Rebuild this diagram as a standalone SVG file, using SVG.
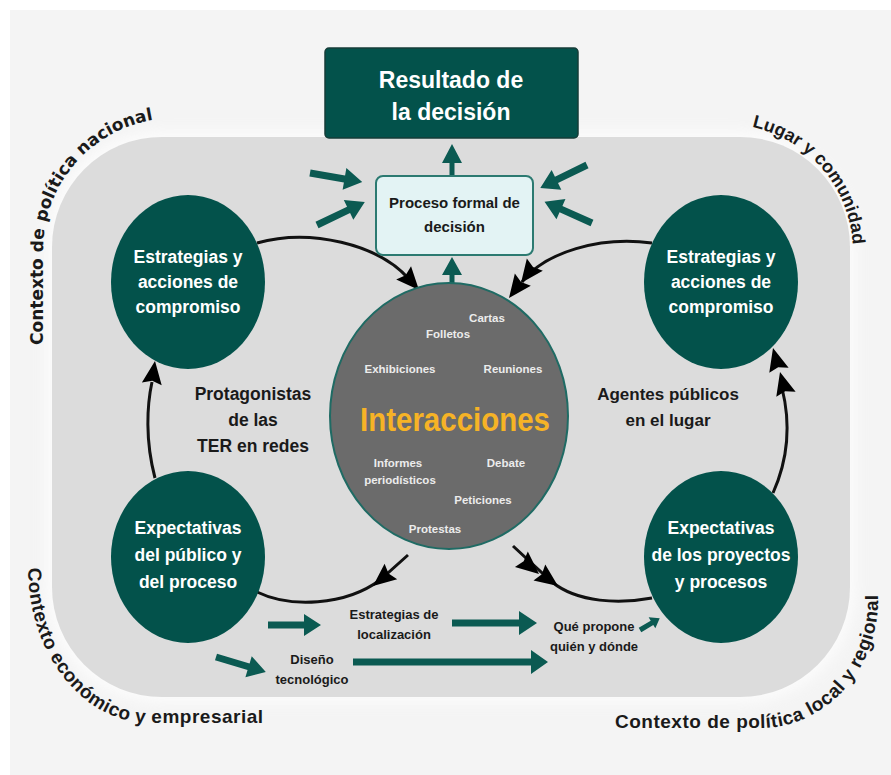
<svg xmlns="http://www.w3.org/2000/svg" width="891" height="775" viewBox="0 0 891 775">
<defs>
<style>
.bg{fill:#f4f4f4}
.panel{fill:#dcdcdc}
.node{fill:#03524b}
.wt{fill:#ffffff;font-family:"Liberation Sans",Arial,sans-serif;font-weight:bold;text-anchor:middle}
.bk{fill:#1a1a1a;font-family:"Liberation Sans",Arial,sans-serif;font-weight:bold;text-anchor:middle}
.sm{fill:#ececec;font-family:"Liberation Sans",Arial,sans-serif;font-weight:bold;font-size:11.5px;text-anchor:middle}
.curve{fill:none;stroke:#111111;stroke-width:3}
.tarrow{fill:#0b5a52}
.ctx{fill:#1a1a1a;font-family:"Liberation Sans",Arial,sans-serif;font-weight:bold}
.ctx19{font-size:19px;letter-spacing:0.5px}
.ctxdv{font-family:"DejaVu Sans",sans-serif;font-size:17px}
</style>
<path id="ah" d="M0,0 L-23,-10 L-20,0 L-23,10 Z" fill="#000000"/>
<filter id="glow" x="-10%" y="-10%" width="120%" height="120%"><feGaussianBlur stdDeviation="7"/></filter>
<path id="p-tl" d="M43,345 L43,250 A132,132 0 0 1 175,118"/>
<path id="p-tr" d="M752,127 A128,128 0 0 1 853,252 L853,280"/>
<path id="p-bl" d="M28,568 A122,155 0 0 0 150,723 L290,723"/>
<path id="p-br" d="M615,728 L760,728 A118,128 0 0 0 878,600 L878,560"/>
</defs>

<rect x="0" y="0" width="891" height="775" fill="#ffffff"/>
<rect class="bg" x="10" y="10" width="881" height="765"/>
<rect x="46" y="131" width="810" height="572" rx="116" fill="#ffffff" opacity="0.7" filter="url(#glow)"/>
<rect class="panel" x="52" y="137" width="798" height="560" rx="110"/>

<g id="context-labels">
<text class="ctx ctxdv"><textPath href="#p-tl">Contexto de</textPath></text>
<text class="ctx ctxdv"><textPath href="#p-tl" startOffset="122.8">política nacional</textPath></text>
<text class="ctx" style="font-size:18px"><textPath href="#p-tr">Lugar y comunidad</textPath></text>
<text class="ctx ctx19"><textPath href="#p-bl">Contexto</textPath></text>
<text class="ctx ctx19"><textPath href="#p-bl" startOffset="92.1">económico</textPath></text>
<text class="ctx ctx19"><textPath href="#p-bl" startOffset="202.7">y empresarial</textPath></text>
<text class="ctx ctx19"><textPath href="#p-br">Contexto de política</textPath></text>
<text class="ctx ctx19"><textPath href="#p-br" startOffset="197.4">local y regional</textPath></text>
</g>

<g id="connectors">
<path class="curve" d="M257,243 C310,228 378,244 409,279"/>
<use href="#ah" transform="translate(419,290) rotate(48)"/>
<path class="curve" d="M652,243 C600,236 545,252 522,282"/>
<use href="#ah" transform="translate(509,298) rotate(127)"/>
<use href="#ah" transform="translate(521,283) rotate(127)"/>
<path class="curve" d="M155,478 C145,440 147,405 152,382"/>
<use href="#ah" transform="translate(155,361) rotate(-82)"/>
<path class="curve" d="M773,493 C790,455 790,420 782,388"/>
<use href="#ah" transform="translate(773,348) rotate(-105)"/>
<use href="#ah" transform="translate(780,372) rotate(-105)"/>
<path class="curve" d="M408,555 L380,580 C345,606 290,608 257,592"/>
<use href="#ah" transform="translate(373,586) rotate(141)"/>
<path class="curve" d="M513,546 L552,582 C578,603 620,604 652,598"/>
<use href="#ah" transform="translate(539,574) rotate(40)"/>
<use href="#ah" transform="translate(558,586) rotate(36)"/>

<polygon class="tarrow" transform="translate(452,176) rotate(-90)" points="0,-2.5 13,-2.5 13,-10 32,0 13,10 13,2.5 0,2.5"/>
<polygon class="tarrow" transform="translate(452,285) rotate(-90)" points="0,-2.5 10,-2.5 10,-10 28,0 10,10 10,2.5 0,2.5"/>
<polygon class="tarrow" transform="translate(310,173) rotate(9.8)" points="0,-3.5 35,-3.5 35,-11 53,0 35,11 35,3.5 0,3.5"/>
<polygon class="tarrow" transform="translate(317,225) rotate(-25.6)" points="0,-3.5 35,-3.5 35,-11 53,0 35,11 35,3.5 0,3.5"/>
<polygon class="tarrow" transform="translate(587,165) rotate(153.9)" points="0,-3.5 34,-3.5 34,-11 52,0 34,11 34,3.5 0,3.5"/>
<polygon class="tarrow" transform="translate(592,223) rotate(204.1)" points="0,-3.5 34,-3.5 34,-11 52,0 34,11 34,3.5 0,3.5"/>
<polygon class="tarrow" transform="translate(268,625)" points="0,-3.5 36,-3.5 36,-11 53,0 36,11 36,3.5 0,3.5"/>
<polygon class="tarrow" transform="translate(452,623)" points="0,-3.5 67,-3.5 67,-12 85,0 67,12 67,3.5 0,3.5"/>
<polygon class="tarrow" transform="translate(353,662)" points="0,-3.5 178,-3.5 178,-12 195,0 178,12 178,3.5 0,3.5"/>
<polygon class="tarrow" transform="translate(216,657) rotate(16.7)" points="0,-3.5 34,-3.5 34,-11 52,0 34,11 34,3.5 0,3.5"/>
<polygon class="tarrow" transform="translate(640,630) rotate(-31)" points="0,-2.5 14,-2.5 14,-6.5 23,0 14,6.5 14,2.5 0,2.5"/>
</g>

<g id="resultado">
<rect x="325" y="48" width="253" height="90" rx="4" fill="#03524b" stroke="#163c38" stroke-width="1.5"/>
<text class="wt" x="451" y="88" style="font-size:23px">Resultado de</text>
<text class="wt" x="451" y="120" style="font-size:23px">la decisión</text>
</g>

<g id="proceso">
<rect x="376" y="176" width="157" height="79" rx="7" fill="#e3f3f4" stroke="#2c7a71" stroke-width="2"/>
<text class="bk" x="454.5" y="208" style="font-size:15px">Proceso formal de</text>
<text class="bk" x="454.5" y="232" style="font-size:15px">decisión</text>
</g>

<g id="estrategias-izq">
<ellipse class="node" cx="188" cy="282" rx="77" ry="87"/>
<text class="wt" x="188" y="263" style="font-size:17.5px">Estrategias y</text>
<text class="wt" x="188" y="288" style="font-size:17.5px">acciones de</text>
<text class="wt" x="188" y="313" style="font-size:17.5px">compromiso</text>
</g>

<g id="expectativas-izq">
<ellipse class="node" cx="188" cy="557" rx="77" ry="86"/>
<text class="wt" x="188" y="534" style="font-size:17.5px">Expectativas</text>
<text class="wt" x="188" y="561" style="font-size:17.5px">del público y</text>
<text class="wt" x="188" y="588" style="font-size:17.5px">del proceso</text>
</g>

<g id="estrategias-der">
<ellipse class="node" cx="721" cy="282" rx="77" ry="87"/>
<text class="wt" x="721" y="263" style="font-size:17.5px">Estrategias y</text>
<text class="wt" x="721" y="288" style="font-size:17.5px">acciones de</text>
<text class="wt" x="721" y="313" style="font-size:17.5px">compromiso</text>
</g>

<g id="expectativas-der">
<ellipse class="node" cx="721" cy="557" rx="77" ry="86"/>
<text class="wt" x="721" y="534" style="font-size:17.5px">Expectativas</text>
<text class="wt" x="721" y="561" style="font-size:17.5px">de los proyectos</text>
<text class="wt" x="721" y="588" style="font-size:17.5px">y procesos</text>
</g>

<g id="interacciones">
<ellipse cx="449" cy="416" rx="119" ry="133" fill="#6b6b6b" stroke="#1f6b64" stroke-width="2"/>
<text x="455" y="431" textLength="190" lengthAdjust="spacingAndGlyphs" style="fill:#f6b326;font-family:'Liberation Sans',Arial,sans-serif;font-weight:bold;font-size:34px;text-anchor:middle">Interacciones</text>
<text class="sm" x="487" y="322">Cartas</text>
<text class="sm" x="448" y="338">Folletos</text>
<text class="sm" x="400" y="373">Exhibiciones</text>
<text class="sm" x="513" y="373">Reuniones</text>
<text class="sm" x="398" y="467">Informes</text>
<text class="sm" x="400" y="484">periodísticos</text>
<text class="sm" x="506" y="467">Debate</text>
<text class="sm" x="483" y="504">Peticiones</text>
<text class="sm" x="435" y="533">Protestas</text>
</g>

<g id="protagonistas">
<text class="bk" x="253" y="400" style="font-size:17.5px">Protagonistas</text>
<text class="bk" x="253" y="426" style="font-size:17.5px">de las</text>
<text class="bk" x="253" y="452" style="font-size:17.5px">TER en redes</text>
</g>

<g id="agentes">
<text class="bk" x="668" y="400" style="font-size:17px">Agentes públicos</text>
<text class="bk" x="668" y="426" style="font-size:17px">en el lugar</text>
</g>

<g id="localizacion">
<text class="bk" x="394" y="619" style="font-size:13px">Estrategias de</text>
<text class="bk" x="394" y="639" style="font-size:13px">localización</text>
</g>

<g id="que-propone">
<text class="bk" x="594" y="631" style="font-size:13px">Qué propone</text>
<text class="bk" x="594" y="651" style="font-size:13px">quién y dónde</text>
</g>

<g id="diseno">
<text class="bk" x="312" y="664" style="font-size:13px">Diseño</text>
<text class="bk" x="312" y="684" style="font-size:13px">tecnológico</text>
</g>
</svg>
